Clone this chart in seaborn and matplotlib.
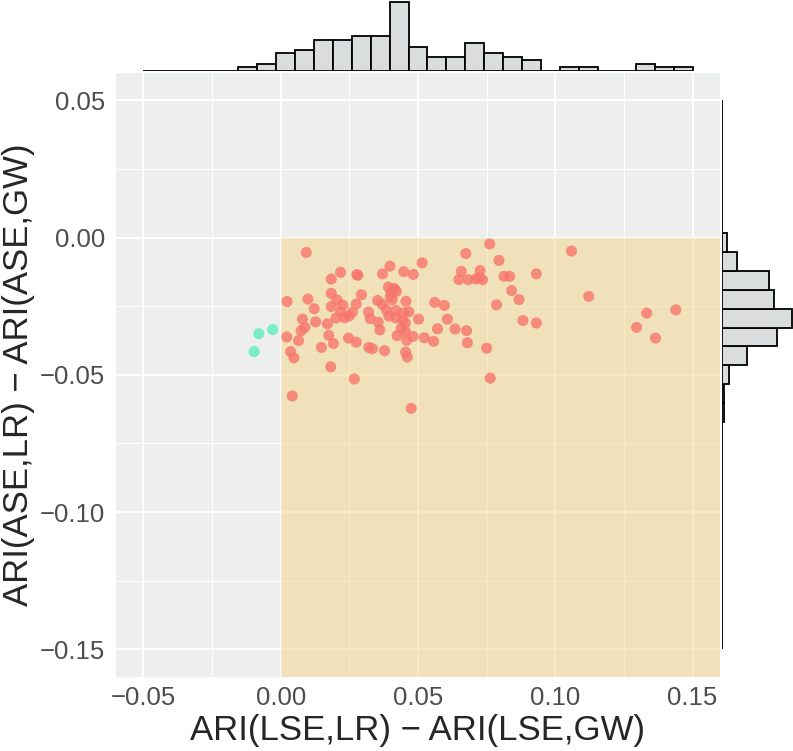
import numpy as np
import pandas as pd
import matplotlib
matplotlib.use("Agg")
import matplotlib.pyplot as plt
import seaborn as sns
from matplotlib.ticker import MultipleLocator

# ---------------------------
# data
# ---------------------------
x_diff = [
    -0.0080, -0.0029, -0.0097,
    0.0093, 0.0184, 0.0218, 0.0277, 0.0281, 0.0023, 0.0099, 0.0122, 0.0184, 0.0205,
    0.0184, 0.0226, 0.0218, 0.0275, 0.0294, 0.0261, 0.0249, 0.0201, 0.0170, 0.0127,
    0.0079, 0.0088, 0.0074, 0.0022, 0.0065, 0.0175, 0.0192, 0.0247, 0.0275, 0.0148,
    0.0036, 0.0048, 0.0182, 0.0268, 0.0042, 0.0320, 0.0326,
    0.0398, 0.0371, 0.0448, 0.0483, 0.0515,
    0.0392, 0.0410, 0.0421, 0.0399, 0.0406, 0.0414, 0.0403,
    0.0353, 0.0370, 0.0385,
    0.0420, 0.0456, 0.0448, 0.0467, 0.0394, 0.0418, 0.0444, 0.0454, 0.0502, 0.0355,
    0.0361, 0.0439, 0.0454, 0.0424, 0.0482, 0.0459,
    0.0523, 0.0557, 0.0571, 0.0607, 0.0561, 0.0596, 0.0635, 0.0677, 0.0680,
    0.0321, 0.0334, 0.0378, 0.0455, 0.0461, 0.0475,
    0.0674, 0.0658, 0.0649, 0.0683, 0.0726,
    0.0711, 0.0723, 0.0735,
    0.0761, 0.0750, 0.0763,
    0.0795, 0.0813, 0.0834, 0.0931, 0.1059, 0.0841, 0.0868, 0.0786, 0.1122, 0.0882,
    0.0931, 0.1333, 0.1439, 0.1296, 0.1365,
    0.0232,
]
y_diff = [
    -0.0350, -0.0335, -0.0415,
    -0.0054, -0.0151, -0.0126, -0.0135, -0.0137, -0.0233, -0.0224, -0.0259, -0.0203, -0.0227,
    -0.0251, -0.0246, -0.0269, -0.0242, -0.0208, -0.0272, -0.0286, -0.0293, -0.0314, -0.0307,
    -0.0297, -0.0327, -0.0339, -0.0362, -0.0375, -0.0356, -0.0386, -0.0366, -0.0381, -0.0400,
    -0.0415, -0.0438, -0.0471, -0.0515, -0.0577, -0.0271, -0.0295,
    -0.0104, -0.0132, -0.0124, -0.0134, -0.0092,
    -0.0180, -0.0188, -0.0196, -0.0214, -0.0226, -0.0186, -0.0200,
    -0.0229, -0.0243, -0.0263,
    -0.0265, -0.0232, -0.0274, -0.0270, -0.0286, -0.0292, -0.0300, -0.0311, -0.0297, -0.0308,
    -0.0336, -0.0330, -0.0342, -0.0357, -0.0360, -0.0374,
    -0.0365, -0.0378, -0.0332, -0.0297, -0.0236, -0.0247, -0.0333, -0.0339, -0.0383,
    -0.0400, -0.0405, -0.0412, -0.0417, -0.0435, -0.0622,
    -0.0058, -0.0123, -0.0153, -0.0153, -0.0120,
    -0.0151, -0.0145, -0.0153,
    -0.0023, -0.0403, -0.0512,
    -0.0083, -0.0141, -0.0141, -0.0132, -0.0049, -0.0193, -0.0226, -0.0245, -0.0214, -0.0302,
    -0.0311, -0.0275, -0.0263, -0.0327, -0.0366,
    -0.0292,
]

x_ticks = [-0.05, 0.00, 0.05, 0.10, 0.15]
y_ticks = [-0.15, -0.10, -0.05, 0.00, 0.05]
x_hist_range = (-0.05, 0.15)
y_hist_range = (-0.15, 0.05)
n_bins = 29
region_x0 = 0.0   # shaded quadrant: x >= 0 and y <= 0
region_y1 = 0.0

xlab = "ARI(LSE,LR) \u2212 ARI(LSE,GW)"
ylab = "ARI(ASE,LR) \u2212 ARI(ASE,GW)"

df = pd.DataFrame({"x": x_diff, "y": y_diff})
df["group"] = np.where(df["x"] < 0, "neg", "pos")

sns.set_style("white")
plt.rcParams["font.family"] = ["Liberation Sans", "DejaVu Sans"]

W, H = 793, 751
fig = plt.figure(figsize=(W / 100, H / 100), dpi=100)
ax = fig.add_axes([116 / W, (H - 676.7) / H, 604 / W, 603.7 / H])
ax_top = fig.add_axes([116 / W, (H - 70.7) / H, 604 / W, 70 / H])
ax_right = fig.add_axes([722 / W, (H - 676.7) / H, 71 / W, 603.7 / H])

# ---------------------------
# main scatter panel
# ---------------------------
ax.set_xlim(-0.06, 0.16)
ax.set_ylim(-0.16, 0.06)
ax.set_facecolor("#EDEEEE")
ax.set_axisbelow(True)
ax.xaxis.set_minor_locator(MultipleLocator(0.025))
ax.yaxis.set_minor_locator(MultipleLocator(0.025))
ax.grid(which="major", color="white", lw=1.4)
ax.grid(which="minor", color="white", lw=0.7)

xl, yl = ax.get_xlim(), ax.get_ylim()
ax.fill_between([region_x0, xl[1]], yl[0], region_y1,
                color="#F5D58A", alpha=0.5, lw=0, zorder=1)

sns.scatterplot(data=df, x="x", y="y", hue="group",
                palette={"neg": "#5CEDBC", "pos": "#F8766D"},
                s=64, alpha=0.8, edgecolor="none", legend=False, ax=ax, zorder=3)

def fmt(v):
    return f"{v:.2f}".replace("-", "\u2212")

ax.set_xticks(x_ticks)
ax.set_xticklabels([fmt(v) for v in x_ticks])
ax.set_yticks(y_ticks)
ax.set_yticklabels([fmt(v) for v in y_ticks])
ax.tick_params(which="major", length=4.5, width=1.1, color="#333333",
               labelsize=18.5, labelcolor="#4D4D4D")
ax.tick_params(axis="x", pad=2)
ax.tick_params(axis="y", pad=3.5)
ax.tick_params(which="minor", length=0)
for s in ax.spines.values():
    s.set_visible(False)
ax.set_xlabel(xlab, fontsize=25, labelpad=3)
ax.set_ylabel(ylab, fontsize=25, labelpad=3)

# ---------------------------
# marginal histograms
# ---------------------------
x_edges = np.linspace(*x_hist_range, n_bins + 1)
y_edges = np.linspace(*y_hist_range, n_bins + 1)

sns.histplot(x=df["x"], bins=x_edges, ax=ax_top, color="#D9DDDD",
             edgecolor="black", linewidth=1.3, alpha=1)
ax_top.set_xlim(xl)
ax_top.set_ylim(0, np.histogram(df["x"], x_edges)[0].max() * 1.015)
ax_top.axis("off")

sns.histplot(y=df["y"], bins=y_edges, ax=ax_right, color="#D9DDDD",
             edgecolor="black", linewidth=1.3, alpha=1)
ax_right.set_ylim(yl)
ax_right.set_xlim(0, np.histogram(df["y"], y_edges)[0].max() * 1.02)
ax_right.axis("off")

fig.savefig("out.png", dpi=100)
